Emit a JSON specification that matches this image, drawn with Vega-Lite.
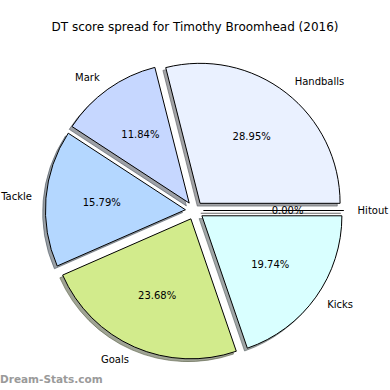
{
  "$schema": "https://vega.github.io/schema/vega-lite/v6.json",
  "width": 390,
  "height": 390,
  "autosize": {"type": "none"},
  "padding": 0,
  "background": "white",
  "config": {"view": {"stroke": null}, "font": "DejaVu Sans"},
  "title": {
    "text": "DT score spread for Timothy Broomhead (2016)",
    "font": "DejaVu Sans",
    "fontSize": 12,
    "fontWeight": "normal",
    "color": "black",
    "anchor": "middle",
    "offset": -33.5
  },
  "data": {
    "values": [
      {"stat": "Handballs", "points": 22},
      {"stat": "Mark", "points": 9},
      {"stat": "Tackle", "points": 12},
      {"stat": "Goals", "points": 18},
      {"stat": "Kicks", "points": 15},
      {"stat": "Hitout", "points": 0}
    ]
  },
  "transform": [
    {"joinaggregate": [{"op": "sum", "field": "points", "as": "total"}]},
    {"window": [{"op": "sum", "field": "points", "as": "cum"}], "frame": [null, 0]},
    {"calculate": "datum.cum - datum.points", "as": "start"},
    {"calculate": "PI/2 - 2*PI*datum.start/datum.total", "as": "a0"},
    {"calculate": "PI/2 - 2*PI*datum.cum/datum.total", "as": "a1"},
    {"calculate": "2*PI*(datum.start + datum.points/2)/datum.total", "as": "mid"},
    {"calculate": "0.065*cos(datum.mid)", "as": "ex"},
    {"calculate": "0.065*sin(datum.mid)", "as": "ey"},
    {"calculate": "datum.ex - 0.02", "as": "sx"},
    {"calculate": "datum.ey - 0.02", "as": "sy"},
    {"calculate": "datum.ex + 0.6*cos(datum.mid)", "as": "px"},
    {"calculate": "datum.ey + 0.6*sin(datum.mid)", "as": "py"},
    {"calculate": "datum.ex + 1.1*cos(datum.mid)", "as": "lx"},
    {"calculate": "datum.ey + 1.1*sin(datum.mid)", "as": "ly"},
    {"calculate": "format(100*datum.points/datum.total, '.2f') + '%'", "as": "pct"}
  ],
  "encoding": {
    "x": {"field": "ex", "type": "quantitative", "scale": {"domain": [-1.38929, 1.39643], "nice": false, "zero": false}, "axis": null},
    "y": {"field": "ey", "type": "quantitative", "scale": {"domain": [-1.28214, 1.50357], "nice": false, "zero": false}, "axis": null}
  },
  "layer": [
    {
      "mark": {"type": "arc", "radius": 140, "strokeWidth": 1, "fillOpacity": 0.5, "strokeOpacity": 0.5},
      "encoding": {
        "x": {"field": "sx", "type": "quantitative"},
        "y": {"field": "sy", "type": "quantitative"},
        "theta": {"field": "a0", "type": "quantitative", "scale": null, "stack": null},
        "theta2": {"field": "a1"},
        "fill": {"field": "stat", "type": "nominal", "legend": null,
          "scale": {"domain": ["Handballs", "Mark", "Tackle", "Goals", "Kicks", "Hitout"],
                    "range": ["#46484d", "#3b414d", "#36414d", "#3f472a", "#414d4d", "#4d4d4d"]}},
        "stroke": {"field": "stat", "type": "nominal", "legend": null,
          "scale": {"domain": ["Handballs", "Mark", "Tackle", "Goals", "Kicks", "Hitout"],
                    "range": ["#46484d", "#3b414d", "#36414d", "#3f472a", "#414d4d", "#4d4d4d"]}}
      }
    },
    {
      "mark": {"type": "arc", "radius": 140, "stroke": "black", "strokeWidth": 1},
      "encoding": {
        "theta": {"field": "a0", "type": "quantitative", "scale": null, "stack": null},
        "theta2": {"field": "a1"},
        "color": {"field": "stat", "type": "nominal", "legend": null,
          "scale": {"domain": ["Handballs", "Mark", "Tackle", "Goals", "Kicks", "Hitout"],
                    "range": ["#eaf1ff", "#c6d7ff", "#b4d7ff", "#d2eb8c", "#d9ffff", "#e8e8e8"]}}
      }
    },
    {
      "mark": {"type": "text", "fontSize": 10, "font": "DejaVu Sans", "color": "black", "align": "center", "baseline": "middle"},
      "encoding": {
        "x": {"field": "px", "type": "quantitative"},
        "y": {"field": "py", "type": "quantitative"},
        "text": {"field": "pct"}
      }
    },
    {
      "transform": [{"filter": "cos(datum.mid) > 0"}],
      "mark": {"type": "text", "fontSize": 10, "font": "DejaVu Sans", "color": "black", "align": "left", "baseline": "middle"},
      "encoding": {
        "x": {"field": "lx", "type": "quantitative"},
        "y": {"field": "ly", "type": "quantitative"},
        "text": {"field": "stat"}
      }
    },
    {
      "transform": [{"filter": "cos(datum.mid) <= 0"}],
      "mark": {"type": "text", "fontSize": 10, "font": "DejaVu Sans", "color": "black", "align": "right", "baseline": "middle"},
      "encoding": {
        "x": {"field": "lx", "type": "quantitative"},
        "y": {"field": "ly", "type": "quantitative"},
        "text": {"field": "stat"}
      }
    },
    {
      "transform": [{"filter": "datum.stat == 'Hitout'"}],
      "mark": {"type": "text", "fontSize": 10.5, "font": "DejaVu Sans", "fontWeight": "bold", "color": "#9a9a9a", "align": "left", "baseline": "middle"},
      "encoding": {
        "x": {"datum": -1.38929, "type": "quantitative"},
        "y": {"datum": -1.2107, "type": "quantitative"},
        "text": {"value": "Dream-Stats.com"}
      }
    }
  ],
  "resolve": {"scale": {"fill": "independent", "color": "independent", "stroke": "independent"}}
}
